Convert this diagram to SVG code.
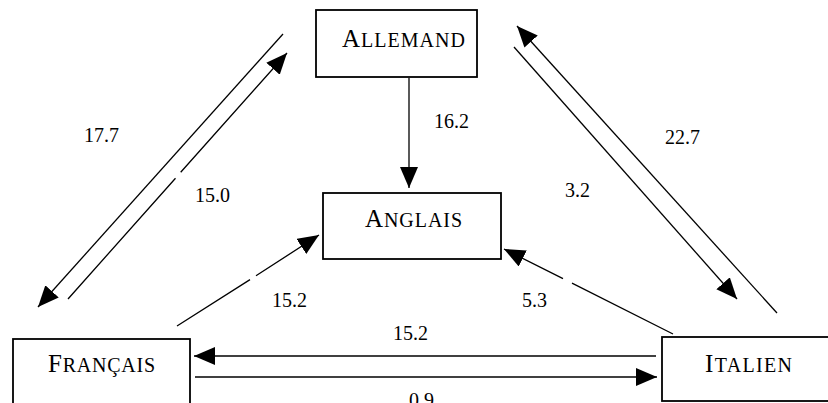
<svg xmlns="http://www.w3.org/2000/svg" width="828" height="403" viewBox="0 0 828 403">
<style>
.box{fill:#fff;stroke:#000;stroke-width:1.8}
.lbl{font-family:"Liberation Serif","Times New Roman",serif;font-size:25px;fill:#000}
.sc{font-size:20px}
.num{font-family:"Liberation Serif","Times New Roman",serif;font-size:20px;fill:#000}
.ln{fill:none;stroke:#000;stroke-width:1.3}
</style>
<defs>
<marker id="ah" markerUnits="userSpaceOnUse" markerWidth="24" markerHeight="20" refX="21" refY="9" orient="auto" viewBox="0 0 24 20">
<path d="M0,0 L21,9 L0,18 z" fill="#000"/>
</marker>
</defs>
<rect width="828" height="403" fill="#fff"/>
<g id="connectors">
<line class="ln" x1="409" y1="78" x2="409" y2="188" marker-end="url(#ah)"/>
<line class="ln" x1="283" y1="34" x2="38" y2="307" marker-end="url(#ah)"/>
<path class="ln" d="M68,299 L175.5,178.2 M180.7,172.3 L287,53" marker-end="url(#ah)"/>
<line class="ln" x1="777" y1="313" x2="517" y2="26" marker-end="url(#ah)"/>
<line class="ln" x1="514" y1="47" x2="737" y2="299" marker-end="url(#ah)"/>
<path class="ln" d="M177,326 L250,279.6 M256,275.8 L319,235" marker-end="url(#ah)"/>
<path class="ln" d="M673,334 L572,283.2 M563,278.7 L504,249" marker-end="url(#ah)"/>
<line class="ln" x1="656" y1="356" x2="194" y2="356" marker-end="url(#ah)"/>
<line class="ln" x1="195" y1="377" x2="657" y2="377" marker-end="url(#ah)"/>
</g>
<g id="allemand">
<rect class="box" x="316" y="10" width="161" height="67"/>
<text class="lbl" x="342" y="47" textLength="123" lengthAdjust="spacing">A<tspan class="sc">LLEMAND</tspan></text>
</g>
<g id="anglais">
<rect class="box" x="323" y="193" width="178" height="66"/>
<text class="lbl" x="365" y="227" textLength="97" lengthAdjust="spacing">A<tspan class="sc">NGLAIS</tspan></text>
</g>
<g id="francais">
<rect class="box" x="13" y="339" width="177" height="70"/>
<text class="lbl" x="48" y="372" textLength="107" lengthAdjust="spacing">F<tspan class="sc">RANÇAIS</tspan></text>
</g>
<g id="italien">
<rect class="box" x="662" y="337" width="175" height="64"/>
<text class="lbl" x="705" y="372" textLength="87" lengthAdjust="spacing">I<tspan class="sc">TALIEN</tspan></text>
</g>
<g id="labels">
<text class="num" x="434" y="128">16.2</text>
<text class="num" x="84" y="142">17.7</text>
<text class="num" x="195" y="202">15.0</text>
<text class="num" x="665" y="144">22.7</text>
<text class="num" x="565" y="197">3.2</text>
<text class="num" x="272" y="307">15.2</text>
<text class="num" x="522" y="307">5.3</text>
<text class="num" x="393" y="340">15.2</text>
<text class="num" x="409" y="407">0.9</text>
</g>
</svg>
